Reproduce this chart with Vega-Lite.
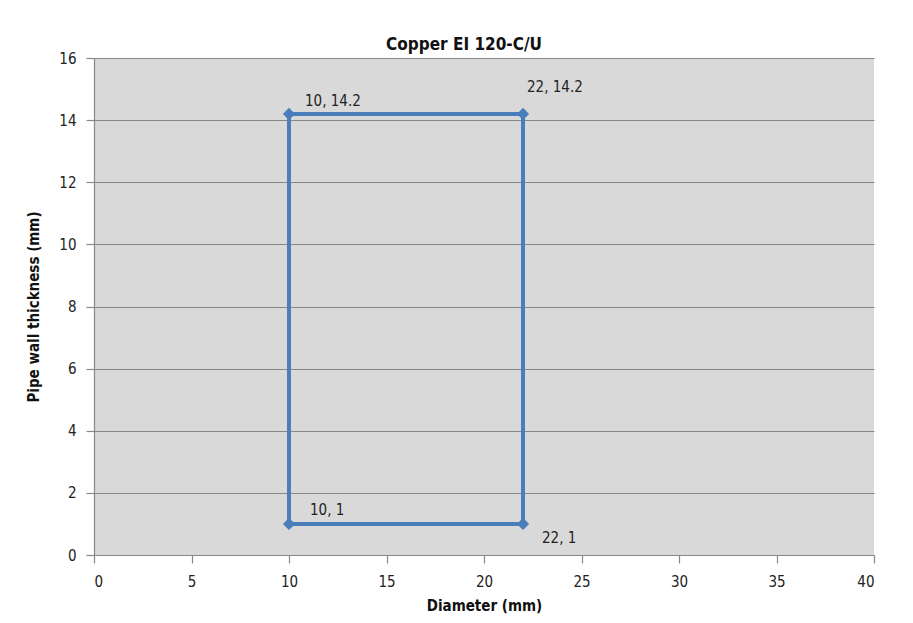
{
  "$schema": "https://vega.github.io/schema/vega-lite/v6.json",
  "width": 780,
  "height": 497,
  "autosize": {"type": "none"},
  "padding": {"left": 94, "top": 58, "right": 39, "bottom": 68},
  "background": "white",
  "title": {"text": "Copper EI 120-C/U", "font": "DejaVu Sans Condensed, Liberation Sans, sans-serif", "fontSize": 17, "fontWeight": "bold", "color": "#111", "anchor": "middle", "offset": -3, "dx": -20},
  "config": {
    "view": {"fill": "#d9d9d9", "stroke": null},
    "axis": {"labelFont": "DejaVu Sans Condensed, Liberation Sans, sans-serif", "titleFont": "DejaVu Sans Condensed, Liberation Sans, sans-serif", "labelFontSize": 15, "titleFontSize": 15, "labelColor": "#222", "titleColor": "#111", "domainColor": "#888", "tickColor": "#888", "gridColor": "#878787", "gridOpacity": 1, "domainWidth": 1.2, "tickWidth": 1.2, "gridWidth": 1.2}
  },
  "data": {"values": [
    {"d": 10, "t": 1, "o": 1, "label": "10, 1"},
    {"d": 10, "t": 14.2, "o": 2, "label": "10, 14.2"},
    {"d": 22, "t": 14.2, "o": 3, "label": "22, 14.2"},
    {"d": 22, "t": 1, "o": 4, "label": "22, 1"},
    {"d": 10, "t": 1, "o": 5, "label": ""}
  ]},
  "encoding": {
    "x": {"field": "d", "type": "quantitative", "scale": {"domain": [0, 40], "nice": false}, "axis": {"title": "Diameter (mm)", "values": [0, 5, 10, 15, 20, 25, 30, 35, 40], "grid": false, "tickSize": 8, "labelPadding": 11, "titlePadding": 9}},
    "y": {"field": "t", "type": "quantitative", "scale": {"domain": [0, 16], "nice": false}, "axis": {"title": "Pipe wall thickness  (mm)", "values": [0, 2, 4, 6, 8, 10, 12, 14, 16], "grid": true, "tickSize": 8, "labelPadding": 10, "titlePadding": 17}}
  },
  "layer": [
    {"mark": {"type": "line", "color": "#4a7ebb", "strokeWidth": 4}, "encoding": {"order": {"field": "o", "type": "quantitative"}}},
    {"transform": [{"filter": "datum.o < 5"}], "mark": {"type": "point", "shape": "diamond", "filled": true, "color": "#4a7ebb", "opacity": 1, "size": 150}},
    {"transform": [{"filter": "datum.o == 2"}], "mark": {"type": "text", "align": "left", "baseline": "middle", "dx": 16, "dy": -13, "font": "DejaVu Sans Condensed, Liberation Sans, sans-serif", "fontSize": 15, "color": "#222"}, "encoding": {"text": {"field": "label"}}},
    {"transform": [{"filter": "datum.o == 3"}], "mark": {"type": "text", "align": "left", "baseline": "middle", "dx": 4, "dy": -27, "font": "DejaVu Sans Condensed, Liberation Sans, sans-serif", "fontSize": 15, "color": "#222"}, "encoding": {"text": {"field": "label"}}},
    {"transform": [{"filter": "datum.o == 1"}], "mark": {"type": "text", "align": "left", "baseline": "middle", "dx": 21, "dy": -14, "font": "DejaVu Sans Condensed, Liberation Sans, sans-serif", "fontSize": 15, "color": "#222"}, "encoding": {"text": {"field": "label"}}},
    {"transform": [{"filter": "datum.o == 4"}], "mark": {"type": "text", "align": "left", "baseline": "middle", "dx": 19, "dy": 14, "font": "DejaVu Sans Condensed, Liberation Sans, sans-serif", "fontSize": 15, "color": "#222"}, "encoding": {"text": {"field": "label"}}}
  ]
}
